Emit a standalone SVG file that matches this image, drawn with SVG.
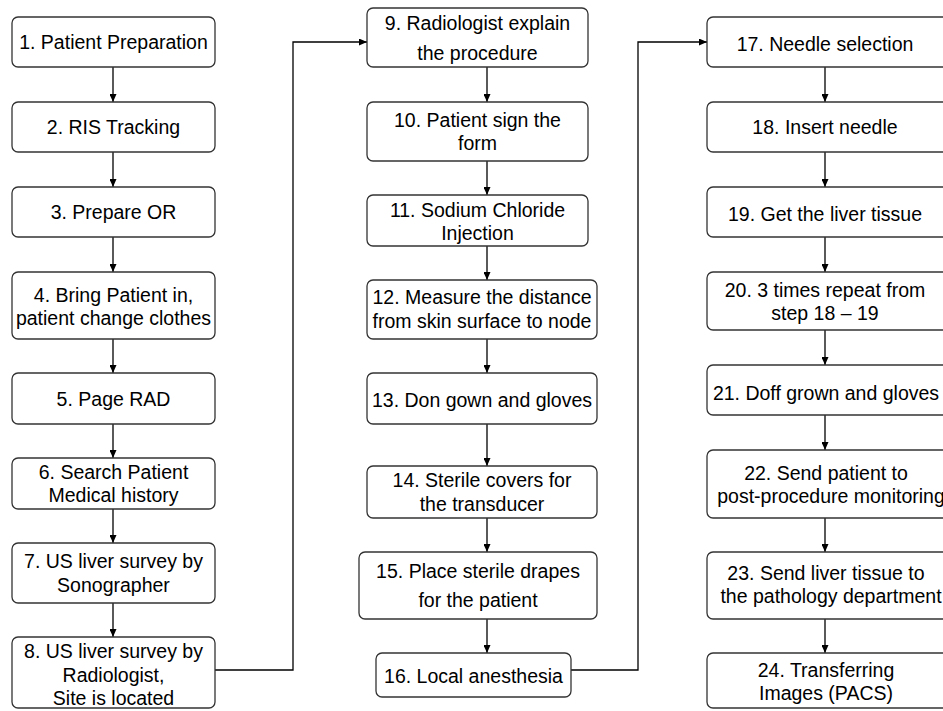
<svg xmlns="http://www.w3.org/2000/svg" width="943" height="711" viewBox="0 0 943 711">
  <defs>
    <marker id="arrow" markerUnits="userSpaceOnUse" markerWidth="8" markerHeight="7" refX="8" refY="3.5" orient="auto">
      <path d="M0,0 L8,3.5 L0,7 z" fill="#000"/>
    </marker>
    <style>
      .box { fill: #fff; stroke: #333; stroke-width: 1.3; }
      .lbl { font-family: "Liberation Sans", Arial, sans-serif; font-size: 19.5px; fill: #000; text-anchor: middle; }
      .edge { fill: none; stroke: #000; stroke-width: 1.3; marker-end: url(#arrow); }
    </style>
  </defs>
  <rect width="943" height="711" fill="#fff"/>

  <!-- step flow connectors -->
  <g id="connectors">
    <path class="edge" d="M113,67 V102"/>
    <path class="edge" d="M113,152 V187"/>
    <path class="edge" d="M113,237 V272"/>
    <path class="edge" d="M113,339 V373"/>
    <path class="edge" d="M113,424 V458"/>
    <path class="edge" d="M113,509 V543"/>
    <path class="edge" d="M113,603 V637"/>
    <path class="edge" d="M215,670 H293 V42 H367"/>
    <path class="edge" d="M487,67 V102"/>
    <path class="edge" d="M487,161 V195"/>
    <path class="edge" d="M487,246 V280"/>
    <path class="edge" d="M487,339 V373"/>
    <path class="edge" d="M487,424 V466"/>
    <path class="edge" d="M487,518 V552"/>
    <path class="edge" d="M487,619 V653"/>
    <path class="edge" d="M571,670 H638 V42 H707"/>
    <path class="edge" d="M825,67 V102"/>
    <path class="edge" d="M825,152 V187"/>
    <path class="edge" d="M825,237 V272"/>
    <path class="edge" d="M825,330 V365"/>
    <path class="edge" d="M825,415 V450"/>
    <path class="edge" d="M825,518 V552"/>
    <path class="edge" d="M825,619 V653"/>
  </g>

  <!-- column 1 -->
  <g id="n1"><rect class="box" x="12" y="17" width="203" height="50" rx="6"/><text class="lbl" x="113.5" y="49">1. Patient Preparation</text></g>
  <g id="n2"><rect class="box" x="12" y="102" width="203" height="50" rx="6"/><text class="lbl" x="113.5" y="134">2. RIS Tracking</text></g>
  <g id="n3"><rect class="box" x="12" y="187" width="203" height="50" rx="6"/><text class="lbl" x="113.5" y="219">3. Prepare OR</text></g>
  <g id="n4"><rect class="box" x="12" y="272" width="203" height="67" rx="6"/><text class="lbl" x="113.5" y="302">4. Bring Patient in,</text><text class="lbl" x="113.5" y="325">patient change clothes</text></g>
  <g id="n5"><rect class="box" x="12" y="373" width="203" height="51" rx="6"/><text class="lbl" x="113.5" y="406">5. Page RAD</text></g>
  <g id="n6"><rect class="box" x="12" y="458" width="203" height="51" rx="6"/><text class="lbl" x="113.5" y="479">6. Search Patient</text><text class="lbl" x="113.5" y="502">Medical history</text></g>
  <g id="n7"><rect class="box" x="12" y="543" width="203" height="60" rx="6"/><text class="lbl" x="113.5" y="568">7. US liver survey by</text><text class="lbl" x="113.5" y="592">Sonographer</text></g>
  <g id="n8"><rect class="box" x="12" y="637" width="203" height="71" rx="6"/><text class="lbl" x="113.5" y="658">8. US liver survey by</text><text class="lbl" x="113.5" y="682">Radiologist,</text><text class="lbl" x="113.5" y="705">Site is located</text></g>

  <!-- column 2 -->
  <g id="n9"><rect class="box" x="367" y="8" width="221" height="59" rx="6"/><text class="lbl" x="477.5" y="30">9. Radiologist explain</text><text class="lbl" x="477.5" y="60">the procedure</text></g>
  <g id="n10"><rect class="box" x="367" y="102" width="221" height="59" rx="6"/><text class="lbl" x="477.5" y="127">10. Patient sign the</text><text class="lbl" x="477.5" y="150">form</text></g>
  <g id="n11"><rect class="box" x="367" y="195" width="221" height="51" rx="6"/><text class="lbl" x="477.5" y="217">11. Sodium Chloride</text><text class="lbl" x="477.5" y="240">Injection</text></g>
  <g id="n12"><rect class="box" x="367" y="280" width="230" height="59" rx="6"/><text class="lbl" x="482" y="304">12. Measure the distance</text><text class="lbl" x="482" y="328">from skin surface to node</text></g>
  <g id="n13"><rect class="box" x="367" y="373" width="230" height="51" rx="6"/><text class="lbl" x="482" y="407">13. Don gown and gloves</text></g>
  <g id="n14"><rect class="box" x="367" y="466" width="230" height="52" rx="6"/><text class="lbl" x="482" y="487">14. Sterile covers for</text><text class="lbl" x="482" y="511">the transducer</text></g>
  <g id="n15"><rect class="box" x="359" y="552" width="238" height="67" rx="6"/><text class="lbl" x="478" y="578">15. Place sterile drapes</text><text class="lbl" x="478" y="607">for the patient</text></g>
  <g id="n16"><rect class="box" x="376" y="653" width="195" height="44" rx="6"/><text class="lbl" x="473.5" y="683">16. Local anesthesia</text></g>

  <!-- column 3 (runs past the right edge of the sheet) -->
  <g id="n17"><rect class="box" x="707" y="17" width="245" height="50" rx="6"/><text class="lbl" x="825" y="51">17. Needle selection</text></g>
  <g id="n18"><rect class="box" x="707" y="102" width="245" height="50" rx="6"/><text class="lbl" x="825" y="134">18. Insert needle</text></g>
  <g id="n19"><rect class="box" x="707" y="187" width="245" height="50" rx="6"/><text class="lbl" x="825" y="221">19. Get the liver tissue</text></g>
  <g id="n20"><rect class="box" x="707" y="272" width="245" height="58" rx="6"/><text class="lbl" x="825" y="297">20. 3 times repeat from</text><text class="lbl" x="825" y="320">step 18 – 19</text></g>
  <g id="n21"><rect class="box" x="707" y="365" width="245" height="50" rx="6"/><text class="lbl" x="826" y="400">21. Doff grown and gloves</text></g>
  <g id="n22"><rect class="box" x="707" y="450" width="245" height="68" rx="6"/><text class="lbl" x="826" y="480">22. Send patient to</text><text class="lbl" x="831" y="503">post-procedure monitoring</text></g>
  <g id="n23"><rect class="box" x="707" y="552" width="245" height="67" rx="6"/><text class="lbl" x="826" y="580">23. Send liver tissue to</text><text class="lbl" x="831" y="603">the pathology department</text></g>
  <g id="n24"><rect class="box" x="707" y="653" width="245" height="55" rx="6"/><text class="lbl" x="826" y="677">24. Transferring</text><text class="lbl" x="826" y="700">Images (PACS)</text></g>
</svg>
